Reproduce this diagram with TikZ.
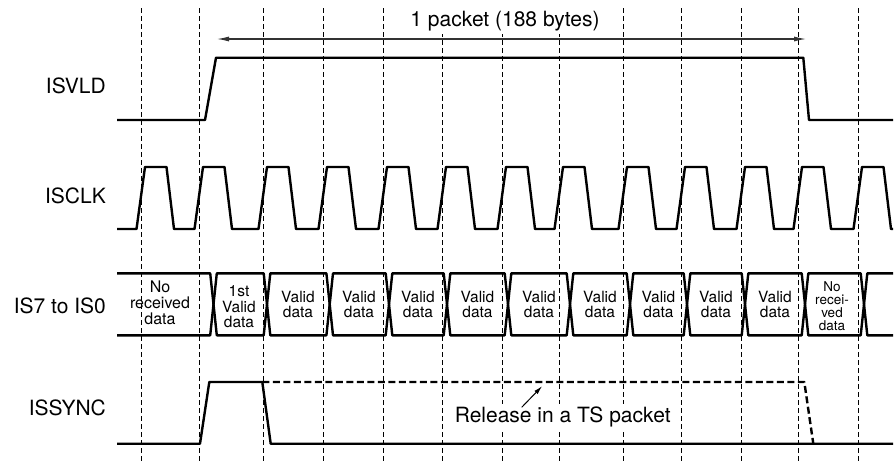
\documentclass[tikz,border=0pt]{standalone}
\usepackage{fontspec}
\setmainfont{TeX Gyre Heros}
\usetikzlibrary{arrows.meta}
\begin{document}
\begin{tikzpicture}[x=1pt,y=-1pt,
  sig/.style={line width=2.4pt,line join=round,line cap=butt},
  sigdash/.style={sig,dash pattern=on 7pt off 3.5pt},
  grid/.style={line width=1pt,dash pattern=on 5pt off 3pt},
  siglabel/.style={font=\fontsize{21}{24}\selectfont,anchor=base east,inner sep=0pt},
  boxlabel/.style={align=center,inner sep=0pt,font=\fontsize{15.5}{15.5}\selectfont},
  note/.style={font=\fontsize{21}{24}\selectfont,fill=white,inner sep=3pt,anchor=base},
  dimarrow/.style={line width=1.1pt,black!80,{Latex[length=12pt,width=5pt]}-{Latex[length=12pt,width=5pt]}},
  ptrarrow/.style={line width=1pt,-{Latex[length=9pt,width=4.5pt]}}]
\useasboundingbox[fill=white] (0,0) rectangle (894,461);

% vertical dashed grid
\foreach \d in {141,199,263,323,383,442,502,559,623,681,741,798,858}
  \draw[grid] (\d,8) -- (\d,461);

% signal names
\node[siglabel] (lvld) at (106,93) {ISVLD};
\node[siglabel] (lclk) at (106,203) {ISCLK};
\node[siglabel] (lbus) at (106,313.3) {IS7 to IS0};
\node[siglabel] (lsync) at (106,415) {ISSYNC};

% ISVLD
\draw[sig] (117,120) -- (205,120) -- (216,57.7) -- (803.3,57.7) -- (809,120) -- (893,120);

% ISCLK
\draw[sig] (117,229) foreach \d in {141,199,263,323,383,442,502,559,623,681,741,798,858}
  { -- (\d-4.5,229) -- (\d+4,167) -- (\d+25.5,167) -- (\d+33,229) } -- (893,229);

% IS7 to IS0 bus
\draw[sig] (117,273.3) -- (210.2,273.3) -- (213.5,304.3) -- (210.2,335.3) -- (117,335.3);
\foreach \a/\b in {213.5/267,267/329.7,329.7/389,389/447,447/508,508/570,570/630,630/687,687/745,745/805,805/864}
  \draw[sig] (\a+3.3,273.3) -- (\b-3.3,273.3) -- (\b,304.3) -- (\b-3.3,335.3) -- (\a+3.3,335.3) -- (\a,304.3) -- cycle;
\draw[sig] (893,273.3) -- (867.3,273.3) -- (864,304.3) -- (867.3,335.3) -- (893,335.3);

\node[boxlabel,font=\fontsize{16}{16}\selectfont] (b1) at (160,303) {No\\received\\data};
\node[boxlabel] (b2) at (239,307) {1st\\Valid\\data};
\foreach \c [count=\i from 3] in {298,359,418,477.5,539,600,658.5,716,775}
  \node[boxlabel] (b\i) at (\c,304.5) {Valid\\data};
\node[boxlabel,font=\fontsize{13.5}{13}\selectfont] (b12) at (832,306) {No\\recei-\\ved\\data};

% ISSYNC
\draw[sig] (117,443.7) -- (200,443.7) -- (209.3,382) -- (262.3,382) -- (270.7,443.7) -- (893,443.7);
\draw[sigdash] (262.3,382) -- (804.3,382) -- (813.3,443.7);

% annotations
\node[note] (pkt) at (505,26) {1 packet (188 bytes)};
\coordinate (pktL) at (217,39);
\coordinate (pktR) at (806,39);
\draw[dimarrow] (pktL) -- (pktR);

\node[note] (rel) at (562.7,422.5) {Release in a TS packet};
\coordinate (relS) at (521.7,407.3);
\coordinate (relE) at (542.3,386);
\draw[ptrarrow] (relS) -- (relE);
\end{tikzpicture}
\end{document}
